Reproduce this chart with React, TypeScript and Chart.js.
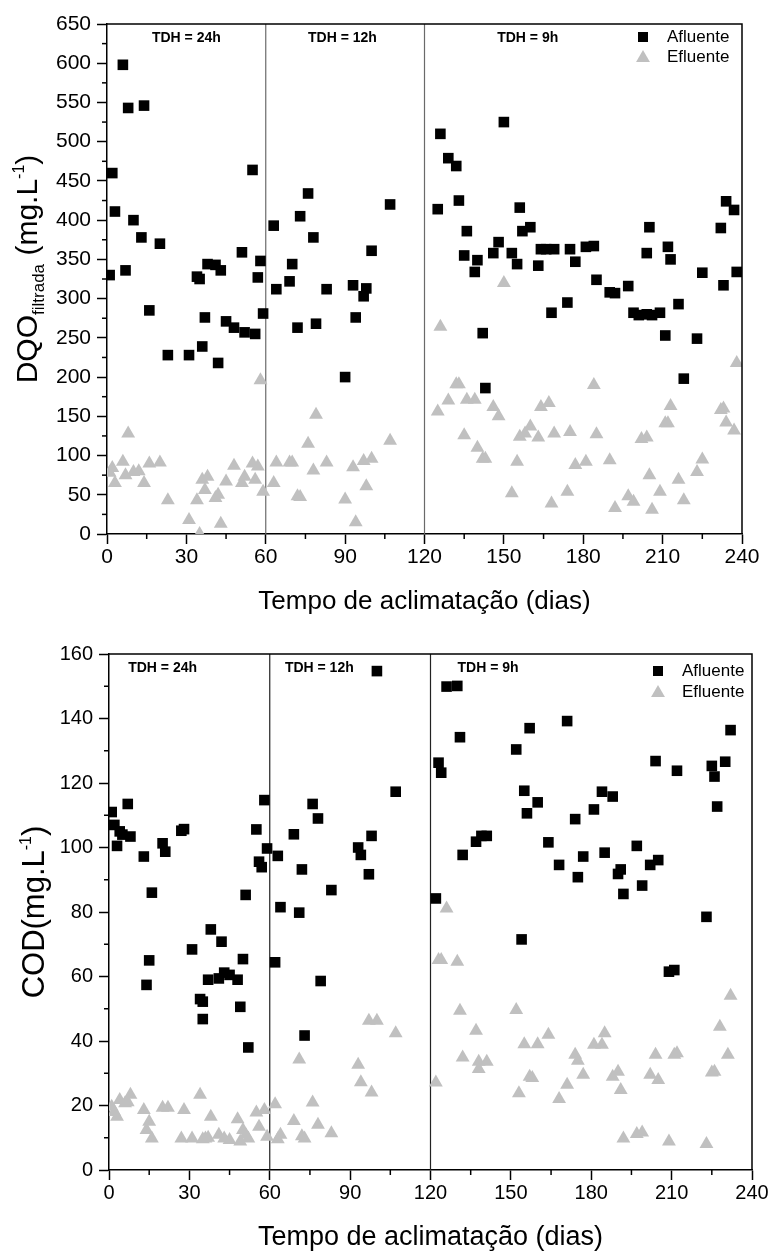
import React, { useEffect, useRef } from "react";
import { Chart, registerables } from "chart.js";

Chart.register(...registerables);

const FONT = '"Liberation Sans", Arial, sans-serif';

// ---------- Top panel: DQO filtrada ----------
const dqoAfluenteDays = [
  1, 2, 3, 6, 7, 8, 10, 13, 14, 16, 20, 23, 31, 34, 35, 36, 37, 38, 41, 42, 43, 45, 48, 51, 52, 55, 56, 57, 58, 59,
  63, 64, 69, 70, 72, 73, 76, 78, 79, 83, 90, 93, 94, 97, 98, 100, 107,
  125, 126, 129, 132, 133, 135, 136, 139, 140, 142, 143, 146, 148, 150, 153, 155, 156, 157, 160, 163, 164, 166, 169,
  168, 174, 175, 177, 181, 184, 185, 190, 192, 197, 199, 201, 204, 206, 209, 204, 205, 211, 212, 213, 216, 218, 223,
  225, 232, 233, 234, 237, 238,
];
const dqoAfluenteValues = [
  330, 460, 411, 598, 336, 543, 400, 378, 546, 285, 370, 228, 228, 328, 325, 239, 276, 344, 343, 218, 336, 271, 263, 359, 257, 464, 255, 327, 348, 281,
  393, 312, 322, 344, 263, 405, 434, 378, 268, 312, 200, 317, 276, 303, 313, 361, 420,
  414, 510, 479, 469, 425, 355, 386, 334, 349, 256, 186, 358, 372, 525, 358, 344, 416, 386, 391, 342, 363, 363, 363,
  282, 295, 363, 347, 366, 367, 324, 308, 307, 316, 282, 279, 280, 279, 282, 358, 391, 253, 366, 350, 293, 198, 249,
  333, 390, 317, 424, 413, 334,
];
const dqoEfluenteDays = [
  1, 2, 3, 6, 7, 8, 10, 12, 14, 16, 20, 23, 31, 34, 35, 36, 37, 38, 41, 42, 43, 45, 48, 51, 52, 55, 56, 57, 58, 59,
  63, 64, 69, 70, 72, 73, 76, 78, 79, 83, 90, 93, 94, 97, 98, 100, 107,
  125, 126, 129, 132, 133, 135, 136, 139, 140, 142, 143, 146, 148, 150, 153, 155, 156, 158, 160, 163, 164, 167, 168,
  169, 174, 175, 177, 181, 184, 185, 190, 192, 197, 199, 202, 204, 205, 206, 209, 211, 212, 213, 216, 218, 223, 225,
  232, 233, 234, 237, 238,
];
const dqoEfluenteValues = [
  78, 84, 65, 92, 75, 128, 79, 80, 65, 90, 91, 43, 18, 43, 0, 69, 56, 73, 46, 50, 13, 67, 87, 65, 73, 90, 69, 86, 196, 54,
  65, 91, 91, 91, 48, 47, 115, 81, 152, 91, 44, 85, 15, 93, 61, 96, 119,
  156, 264, 170, 191, 191, 126, 171, 171, 110, 96, 96, 162, 150, 320, 52, 92, 124, 128, 137, 123, 162, 167, 39,
  128, 54, 130, 88, 92, 190, 127, 94, 33, 48, 41, 121, 123, 75, 31, 54, 141, 141, 163, 69, 43, 79, 95,
  158, 160, 142, 132, 218,
];

// ---------- Bottom panel: COD ----------
const codAfluenteDays = [
  1, 2, 3, 4, 5, 7, 8, 13, 14, 15, 16, 20, 21, 27, 28, 31, 34, 35, 35, 37, 38, 41, 42, 43, 45, 48, 49, 50, 51, 52, 55, 56, 57, 58, 59,
  62, 63, 64, 69, 71, 72, 73, 76, 78, 79, 83, 93, 94, 97, 98, 100, 107,
  122, 123, 124, 126, 130, 131, 132, 137, 139, 141, 152, 154, 155, 156, 157, 160, 164, 168, 171, 174, 175, 177, 181,
  184, 185, 188, 190, 191, 192, 197, 199, 202, 204, 205, 209, 211, 212, 223, 225, 226, 227, 230, 232,
];
const codAfluenteValues = [
  111, 107, 100.5, 105, 104, 113.5, 103.4, 97.2, 57.4, 65, 86, 101.3, 98.7, 105.2, 105.7, 68.4, 53, 52.2, 46.8, 59, 74.6, 59.4, 70.8, 61.2, 60.5, 59, 50.6, 65.4, 85.3, 38, 105.6, 95.6, 93.9, 114.7, 99.7,
  64.4, 97.4, 81.5, 104.1, 79.8, 93.2, 41.7, 113.5, 109, 58.6, 86.8, 100, 97.7, 91.7, 103.6, 154.7, 117.3,
  84.2, 126.3, 123.2, 149.9, 150.1, 134.2, 97.7, 101.8, 103.6, 103.6, 130.4, 71.5, 117.6, 110.6, 137, 114, 101.6, 94.6, 139.2, 108.8, 90.8, 97.2, 111.8,
  117.3, 98.4, 115.8, 91.8, 93.2, 85.6, 100.5, 88.2, 94.6, 126.8, 96.1, 61.5, 62, 123.8, 78.5, 125.3, 122, 112.7, 126.6, 136.4,
];
const codEfluenteDays = [
  1, 2, 3, 4, 6, 7, 8, 13, 14, 15, 16, 20, 22, 27, 28, 31, 34, 35, 36, 37, 38, 41, 43, 45, 48, 49, 50, 51, 52, 55, 56, 58, 59,
  62, 63, 64, 69, 71, 72, 73, 76, 78, 83, 93, 94, 97, 98, 100, 107,
  122, 123, 124, 126, 130, 131, 132, 137, 138, 138, 141, 152, 153, 155, 157, 158, 160, 164, 168, 171, 174, 175, 177,
  181, 184, 185, 188, 190, 191, 192, 197, 199, 202, 204, 205, 209, 211, 212, 223, 225, 226, 228, 231, 232,
];
const codEfluenteValues = [
  19.6, 18, 16.5, 21.7, 20.7, 21, 23.3, 18.6, 12.4, 15, 9.8, 19.3, 19.3, 9.8, 18.6, 9.8, 23.3, 9.5, 9.8, 10, 16.5, 10.9, 9.8, 9.3, 15.7, 8.8, 12.4, 10.9, 9.8, 17.8, 13.4, 18.6, 10.3,
  20.4, 9.5, 10.9, 15.2, 34.3, 10.5, 9.8, 20.9, 14, 11.4, 32.6, 27.2, 46.3, 24, 46.3, 42.4,
  27.1, 65.1, 65.1, 81.1, 64.6, 49.4, 34.9, 43.2, 33.6, 31.3, 33.6, 49.6, 23.8, 39, 28.9, 28.5, 39, 41.9, 22, 26.4, 35.7, 33.9, 29.5,
  38.8, 38.8, 42.4, 28.9, 30.5, 24.8, 9.8, 11.2, 11.6, 29.5, 35.7, 27.9, 8.8, 35.7, 36.2, 8.1, 30.2, 30.5, 44.4, 35.7, 54,
];

const tdhLabels = ["TDH = 24h", "TDH = 12h", "TDH = 9h"];
const phaseBoundaries = [60, 120];
const seriesNames = ["Afluente", "Efluente"];

type TitlePart = { text: string; size: number; dy: number };

type PanelCfg = {
  top: number;
  height: number;
  padTop: number;
  padRight: number;
  yAxisW: number;
  xAxisH: number;
  yMax: number;
  yStep: number;
  yMinor: number;
  tickSize: number;
  sepColor: string;
  tdhDays: number[];
  tdhY: number;
  yTitle: TitlePart[];
  yTitleX: number;
  yTitleShift: number;
  xTitleY: number;
  xTitleSize: number;
  legendMarkerX: number;
  legendTextX: number;
  legendY: number[];
  afDays: number[];
  afVals: number[];
  efDays: number[];
  efVals: number[];
};

const topCfg: PanelCfg = {
  top: 0,
  height: 625,
  padTop: 24,
  padRight: 29,
  yAxisW: 107,
  xAxisH: 91,
  yMax: 650,
  yStep: 50,
  yMinor: 25,
  tickSize: 21,
  sepColor: "#6a6a6a",
  tdhDays: [30, 89, 159],
  tdhY: 38,
  yTitle: [
    { text: "DQO", size: 30, dy: 0 },
    { text: "filtrada", size: 17, dy: 7 },
    { text: " (mg.L", size: 30, dy: 0 },
    { text: "-1", size: 16, dy: -13 },
    { text: ")", size: 30, dy: 0 },
  ],
  yTitleX: 37,
  yTitleShift: -10,
  xTitleY: 602,
  xTitleSize: 26,
  legendMarkerX: 643,
  legendTextX: 667,
  legendY: [37, 57],
  afDays: dqoAfluenteDays,
  afVals: dqoAfluenteValues,
  efDays: dqoEfluenteDays,
  efVals: dqoEfluenteValues,
};

const bottomCfg: PanelCfg = {
  top: 625,
  height: 627,
  padTop: 29,
  padRight: 19,
  yAxisW: 109,
  xAxisH: 82,
  yMax: 160,
  yStep: 20,
  yMinor: 10,
  tickSize: 20,
  sepColor: "#222222",
  tdhDays: [20, 78.5, 141.5],
  tdhY: 43,
  yTitle: [
    { text: "COD(mg.L", size: 31, dy: 0 },
    { text: "-1", size: 16, dy: -13 },
    { text: ")", size: 31, dy: 0 },
  ],
  yTitleX: 44,
  yTitleShift: 0,
  xTitleY: 613,
  xTitleSize: 27,
  legendMarkerX: 658,
  legendTextX: 682,
  legendY: [46, 67],
  afDays: codAfluenteDays,
  afVals: codAfluenteValues,
  efDays: codEfluenteDays,
  efVals: codEfluenteValues,
};

const GRAY = "#c0c0c0";

function makePlugin(cfg: PanelCfg) {
  return {
    id: "panelDecor",
    beforeDatasetsDraw(chart: any) {
      const ctx = chart.ctx;
      const ca = chart.chartArea;
      const xs = chart.scales.x;
      ctx.save();
      ctx.strokeStyle = cfg.sepColor;
      ctx.lineWidth = 1.2;
      phaseBoundaries.forEach((d) => {
        const px = xs.getPixelForValue(d);
        ctx.beginPath();
        ctx.moveTo(px, ca.top);
        ctx.lineTo(px, ca.bottom);
        ctx.stroke();
      });
      ctx.restore();
    },
    afterDraw(chart: any) {
      const ctx = chart.ctx;
      const ca = chart.chartArea;
      const xs = chart.scales.x;
      const ys = chart.scales.y;
      ctx.save();
      // frame top & right
      ctx.strokeStyle = "#000";
      ctx.lineWidth = 1.5;
      ctx.beginPath();
      ctx.moveTo(ca.left, ca.top);
      ctx.lineTo(ca.right, ca.top);
      ctx.lineTo(ca.right, ca.bottom);
      ctx.stroke();
      // minor ticks
      ctx.lineWidth = 1.5;
      for (let v = 15; v < 240; v += 30) {
        const px = xs.getPixelForValue(v);
        ctx.beginPath();
        ctx.moveTo(px, ca.bottom);
        ctx.lineTo(px, ca.bottom + 5);
        ctx.stroke();
      }
      for (let v = cfg.yMinor; v < cfg.yMax; v += cfg.yStep) {
        const py = ys.getPixelForValue(v);
        ctx.beginPath();
        ctx.moveTo(ca.left, py);
        ctx.lineTo(ca.left - 5, py);
        ctx.stroke();
      }
      // TDH labels
      ctx.fillStyle = "#000";
      ctx.font = `bold 14px ${FONT}`;
      ctx.textAlign = "center";
      ctx.textBaseline = "middle";
      tdhLabels.forEach((t, i) => {
        ctx.fillText(t, xs.getPixelForValue(cfg.tdhDays[i]), cfg.tdhY);
      });
      // legend
      const [y1, y2] = cfg.legendY;
      ctx.fillStyle = "#000";
      ctx.fillRect(cfg.legendMarkerX - 5, y1 - 5, 10, 10);
      ctx.fillStyle = GRAY;
      const r = 8;
      ctx.beginPath();
      ctx.moveTo(cfg.legendMarkerX, y2 - r * 0.75 - 1);
      ctx.lineTo(cfg.legendMarkerX + r * 0.866, y2 + r * 0.75 - 1);
      ctx.lineTo(cfg.legendMarkerX - r * 0.866, y2 + r * 0.75 - 1);
      ctx.closePath();
      ctx.fill();
      ctx.fillStyle = "#000";
      ctx.font = `17px ${FONT}`;
      ctx.textAlign = "left";
      ctx.fillText(seriesNames[0], cfg.legendTextX, y1);
      ctx.fillText(seriesNames[1], cfg.legendTextX, y2);
      // x title
      ctx.font = `${cfg.xTitleSize}px ${FONT}`;
      ctx.textAlign = "center";
      ctx.fillText("Tempo de aclimatação (dias)", (ca.left + ca.right) / 2, cfg.xTitleY);
      // y title
      ctx.translate(cfg.yTitleX, (ca.top + ca.bottom) / 2 + cfg.yTitleShift);
      ctx.rotate(-Math.PI / 2);
      ctx.textAlign = "left";
      ctx.textBaseline = "alphabetic";
      let total = 0;
      cfg.yTitle.forEach((p) => {
        ctx.font = `${p.size}px ${FONT}`;
        total += ctx.measureText(p.text).width;
      });
      let x = -total / 2;
      cfg.yTitle.forEach((p) => {
        ctx.font = `${p.size}px ${FONT}`;
        ctx.fillText(p.text, x, p.dy);
        x += ctx.measureText(p.text).width;
      });
      ctx.restore();
    },
  };
}

function Panel({ cfg }: { cfg: PanelCfg }) {
  const ref = useRef<HTMLCanvasElement | null>(null);
  useEffect(() => {
    if (!ref.current) return;
    const chart = new Chart(ref.current, {
      type: "scatter",
      data: {
        datasets: [
          {
            label: seriesNames[0],
            data: cfg.afDays.map((d, i) => ({ x: d, y: cfg.afVals[i] })),
            pointStyle: "rect",
            pointRadius: 7.5,
            backgroundColor: "#000",
            borderColor: "#000",
            borderWidth: 0,
          },
          {
            label: seriesNames[1],
            data: cfg.efDays.map((d, i) => ({ x: d, y: cfg.efVals[i] })),
            pointStyle: "triangle",
            pointRadius: 8,
            backgroundColor: GRAY,
            borderColor: GRAY,
            borderWidth: 0,
          },
        ],
      },
      options: {
        animation: false,
        responsive: true,
        maintainAspectRatio: false,
        layout: { padding: { left: 0, top: cfg.padTop, right: cfg.padRight, bottom: 0 } },
        plugins: { legend: { display: false }, tooltip: { enabled: false } },
        scales: {
          x: {
            type: "linear",
            min: 0,
            max: 240,
            afterFit: (s: any) => {
              s.height = cfg.xAxisH;
            },
            ticks: {
              stepSize: 30,
              font: { family: FONT, size: cfg.tickSize },
              color: "#000",
              padding: 1,
              maxRotation: 0,
              autoSkip: false,
            },
            grid: {
              display: true,
              drawOnChartArea: false,
              drawTicks: true,
              tickLength: 10,
              tickColor: "#000",
              tickWidth: 1.5,
            },
            border: { display: true, color: "#000", width: 1.5 },
          },
          y: {
            type: "linear",
            min: 0,
            max: cfg.yMax,
            afterFit: (s: any) => {
              s.width = cfg.yAxisW;
            },
            ticks: {
              stepSize: cfg.yStep,
              font: { family: FONT, size: cfg.tickSize },
              color: "#000",
              padding: 6,
              autoSkip: false,
            },
            grid: {
              display: true,
              drawOnChartArea: false,
              drawTicks: true,
              tickLength: 10,
              tickColor: "#000",
              tickWidth: 1.5,
            },
            border: { display: true, color: "#000", width: 1.5 },
          },
        },
      },
      plugins: [makePlugin(cfg)],
    } as any);
    return () => chart.destroy();
  }, [cfg]);
  return (
    <div style={{ position: "absolute", left: 0, top: cfg.top, width: 771, height: cfg.height }}>
      <canvas ref={ref} />
    </div>
  );
}

export default function App() {
  return (
    <div style={{ position: "absolute", left: 0, top: 0, width: 771, height: 1252, background: "#fff" }}>
      <Panel cfg={topCfg} />
      <Panel cfg={bottomCfg} />
    </div>
  );
}
